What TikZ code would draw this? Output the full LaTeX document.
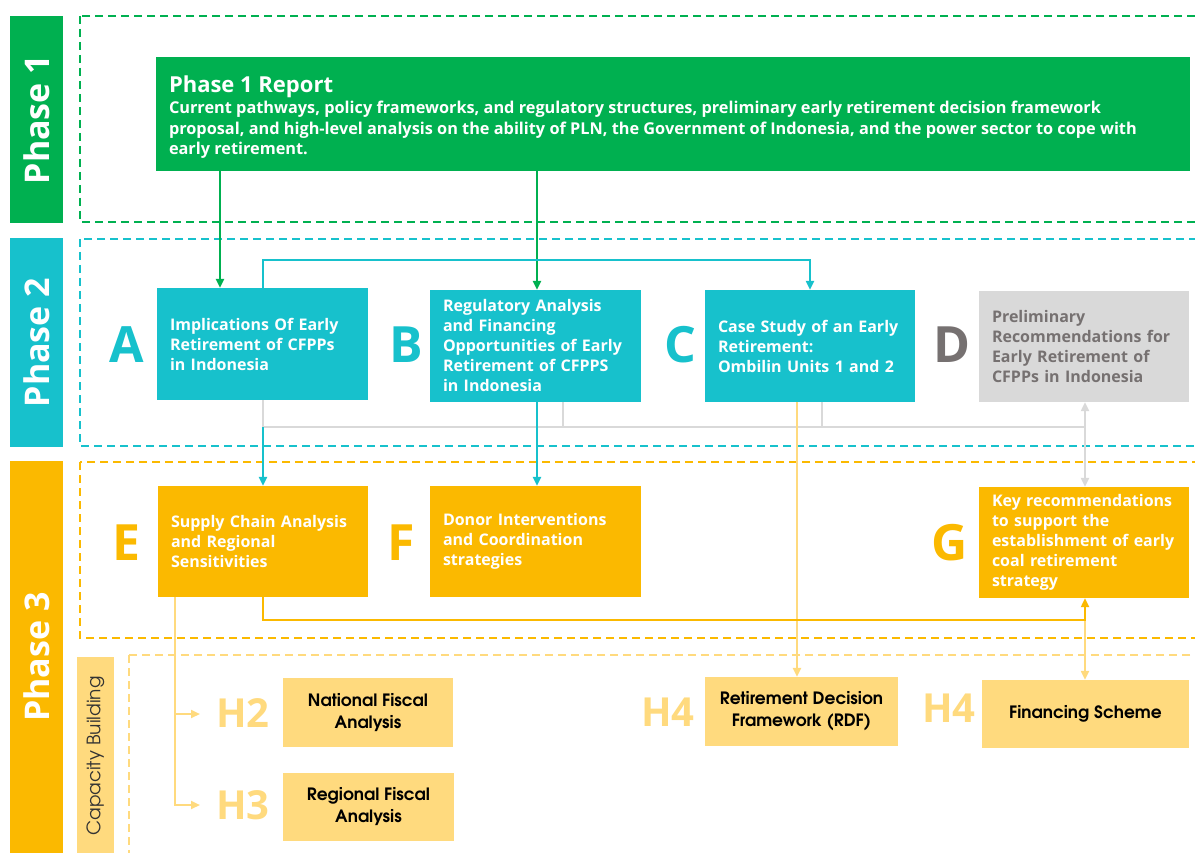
\documentclass[tikz,border=0pt]{standalone}
\usepackage{fontspec}
\setmainfont{Open Sans}
\newfontfamily\gothic{texgyreadventor}[Extension=.otf, UprightFont=*-regular, BoldFont=*-bold]
\usetikzlibrary{arrows.meta}
\definecolor{pgreen}{HTML}{00B050}
\definecolor{pcyan}{HTML}{17C1CC}
\definecolor{porange}{HTML}{FBB900}
\definecolor{plight}{HTML}{FFDA7E}
\definecolor{pgray}{HTML}{D9D9D9}
\definecolor{ptext}{HTML}{767171}
\tikzset{
  phasebar/.style={rotate=90, inner sep=0pt, text=white, font=\bfseries\fontsize{34}{40}\selectfont},
  dashbox/.style={line width=1.8pt, dash pattern=on 8pt off 5pt},
  box/.style={inner xsep=13pt, inner ysep=0pt, align=left, text=white, font=\bfseries\fontsize{16}{20}\selectfont},
  hbox/.style={fill=plight, inner sep=0pt, align=center, text=black, font=\gothic\bfseries\fontsize{17}{22}\selectfont},
  letter/.style={font=\bfseries\fontsize{50}{50}\selectfont, inner sep=0pt},
  hlabel/.style={font=\bfseries\fontsize{40}{40}\selectfont, inner sep=0pt, text=plight},
  tip/.style={-{Triangle[length=9pt,width=8pt]}},
  conn/.style={line width=2.2pt}
}
\begin{document}
\begin{tikzpicture}[x=1pt,y=-1pt]
\useasboundingbox (0,0) rectangle (1195,853);
\clip (0,0) rectangle (1195,853);
% dashed phase frames
\draw[dashbox, pgreen] (80,16) rectangle (1205,222);
\draw[dashbox, pcyan] (80,239) rectangle (1205,446);
\draw[dashbox, porange] (80,462) rectangle (1205,638);
\draw[dashbox, plight] (129,655) rectangle (1205,870);
% phase bars
\node[phasebar, fill=pgreen, minimum width=207pt, minimum height=53pt] (ph1) at (36.5,119.5) {Phase 1};
\node[phasebar, fill=pcyan, minimum width=209pt, minimum height=53pt] (ph2) at (36.5,342.5) {Phase 2};
\node[phasebar, fill=porange, minimum width=392pt, minimum height=53pt] (ph3) at (36.5,657) {Phase 3};
\node[rotate=90, fill=plight, minimum width=198pt, minimum height=37pt, inner sep=0pt, text=black!80, font=\gothic\fontsize{18.5}{20}\selectfont] (cb) at (95.5,756) {Capacity Building};
% main boxes
\node[box, fill=pgreen, text width=1008pt, minimum height=114pt] (P1) at (673,114) {};
\node[inner sep=0pt, align=left, text=white, font=\bfseries\fontsize{16.3}{20.5}\selectfont, anchor=west] (P1t) at ([xshift=13pt, yshift=-3pt]P1.west)
 {{\fontsize{22}{26}\selectfont Phase 1 Report}\\[1pt]
  Current pathways, policy frameworks, and regulatory structures, preliminary early retirement decision framework\\
  proposal, and high-level analysis on the ability of PLN, the Government of Indonesia, and the power sector to cope with\\
  early retirement.};
\node[box, fill=pcyan, text width=185pt, minimum height=112pt] (A) at (262.5,344) {Implications Of Early\\Retirement of CFPPs\\in Indonesia};
\node[box, fill=pcyan, text width=185pt, minimum height=112pt] (B) at (535.5,346) {Regulatory Analysis\\and Financing\\Opportunities of Early\\Retirement of CFPPS\\in Indonesia};
\node[box, fill=pcyan, text width=184pt, minimum height=112pt] (C) at (810,346) {Case Study of an Early\\Retirement:\\Ombilin Units 1 and 2};
\node[box, fill=pgray, text=ptext, text width=184pt, minimum height=111pt] (D) at (1084,346.5) {Preliminary\\Recommendations for\\Early Retirement of\\CFPPs in Indonesia};
\node[box, fill=porange, text width=184pt, minimum height=111pt] (E) at (263,541.5) {Supply Chain Analysis\\and Regional\\Sensitivities};
\node[box, fill=porange, text width=185pt, minimum height=111pt] (F) at (535.5,541.5) {Donor Interventions\\and Coordination\\strategies};
\node[box, fill=porange, text width=184pt, minimum height=111pt] (G) at (1084,542.5) {Key recommendations\\to support the\\establishment of early\\coal retirement\\strategy};
% letters
\node[letter, text=pcyan] (lA) at (127,345) {A};
\node[letter, text=pcyan] (lB) at (406,345) {B};
\node[letter, text=pcyan] (lC) at (680,345) {C};
\node[letter, text=ptext] (lD) at (952,345) {D};
\node[letter, text=porange] (lE) at (127,543) {E};
\node[letter, text=porange] (lF) at (401,543) {F};
\node[letter, text=porange] (lG) at (950,543) {G};
% capacity building boxes
\node[hbox, minimum width=170pt, minimum height=69pt] (H2) at (368,712.5) {National Fiscal\\Analysis};
\node[hbox, minimum width=171pt, minimum height=68pt] (H3) at (368.5,807) {Regional Fiscal\\Analysis};
\node[hbox, minimum width=193pt, minimum height=69pt] (RDF) at (801.5,711.5) {Retirement Decision\\Framework (RDF)};
\node[hbox, minimum width=207pt, minimum height=68pt] (FS) at (1085.5,714) {Financing Scheme};
\node[hlabel] (lH2) at (243,713) {H2};
\node[hlabel] (lH3) at (243,805) {H3};
\node[hlabel] (lH4a) at (668,712) {H4};
\node[hlabel] (lH4b) at (949,708) {H4};
% helper coordinates
\coordinate (xg1) at (220,0);
\coordinate (xg2) at (537,0);
\coordinate (xA) at (263,0);
\coordinate (xB2) at (563,0);
\coordinate (xC) at (810,0);
\coordinate (xC2) at (822,0);
\coordinate (xR) at (797,0);
\coordinate (xD) at (1085,0);
\coordinate (xE) at (175,0);
\coordinate (yg) at (0,427);
\coordinate (yo) at (0,620);
\coordinate (ytop) at (0,260);
\coordinate (t2) at (200,714);
\coordinate (t3) at (200,805);
% connectors
\draw[conn, pgreen, tip] (P1.south -| xg1) -- (A.north -| xg1);
\draw[conn, pgreen, tip] (P1.south -| xg2) -- (B.north -| xg2);
\draw[conn, pcyan, tip] (A.north -| xA) -- (xA |- ytop) -| (C.north -| xC);
\draw[conn, pgray] (A.south -| xA) -- (xA |- yg) -- (xD |- yg);
\draw[conn, pgray] (B.south -| xB2) -- (xB2 |- yg);
\draw[conn, pgray] (C.south -| xC2) -- (xC2 |- yg);
\draw[conn, pgray, {Triangle[length=9pt,width=8pt]}-{Triangle[length=9pt,width=8pt]}] (D.south -| xD) -- (G.north -| xD);
\draw[conn, pcyan, tip] (xA |- yg) -- (E.north -| xA);
\draw[conn, pcyan, tip] (B.south -| xg2) -- (F.north -| xg2);
\draw[conn, plight, tip] (C.south -| xR) -- (RDF.north -| xR);
\draw[conn, plight, tip] (xD |- yo) -- (FS.north -| xD);
\draw[conn, porange, tip] (E.south -| xA) -- (xA |- yo) -- (xD |- yo) -- (G.south -| xD);
\draw[conn, plight, tip] (E.south -| xE) |- (t3);
\draw[conn, plight, tip] (xE |- t2) -- (t2);
\end{tikzpicture}
\end{document}
